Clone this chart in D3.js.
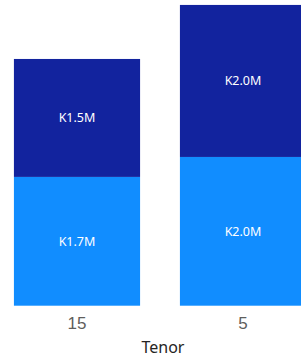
<!DOCTYPE html>
<html lang="en">
<head>
  <meta charset="UTF-8">
  <title>Tenor</title>
  <script src="https://d3js.org/d3.v7.min.js"></script>
  <style>
    html, body {
      margin: 0;
      padding: 0;
      background: #fff;
      overflow: hidden;
    }
    svg {
      display: block;
      font-family: "Segoe UI", "Noto Sans", sans-serif;
    }
    .tick-label {
      fill: #605e5c;
      font-size: 17px;
    }
    .axis-title {
      fill: #252423;
      font-size: 16px;
    }
    .data-label {
      fill: #fff;
      font-size: 12.5px;
    }
  </style>
</head>
<body>
  <div id="chart"></div>
  <script>
    const categories = ["15", "5"];
    const lowerValues = [1690000, 1952000];
    const upperValues = [1548000, 1995000];
    const seriesNames = ["lower", "upper"];
    const seriesColors = ["#118dff", "#12239e"];

    const width = 301;
    const height = 359;

    const svg = d3.select("#chart").append("svg")
      .attr("width", width)
      .attr("height", height);

    const rows = categories.map((c, i) => ({
      cat: c,
      lower: lowerValues[i],
      upper: upperValues[i]
    }));

    const stack = d3.stack().keys(seriesNames);
    const series = stack(rows);

    const x = d3.scaleBand()
      .domain(categories)
      .range([-6, 326])
      .paddingInner(0.24)
      .paddingOuter(0.12);

    const y = d3.scaleLinear()
      .domain([0, 4000000])
      .range([305.7, 0.9]);

    const fmt = v => "K" + (v / 1e6).toFixed(1) + "M";

    const layer = svg.selectAll(".layer")
      .data(series)
      .enter().append("g")
      .attr("class", "layer")
      .attr("fill", (d, i) => seriesColors[i]);

    layer.selectAll("rect")
      .data(d => d)
      .enter().append("rect")
      .attr("x", d => x(d.data.cat))
      .attr("y", d => y(d[1]))
      .attr("width", x.bandwidth())
      .attr("height", d => y(d[0]) - y(d[1]));

    layer.selectAll("text")
      .data(d => d)
      .enter().append("text")
      .attr("class", "data-label")
      .attr("text-anchor", "middle")
      .attr("dominant-baseline", "central")
      .attr("x", d => x(d.data.cat) + x.bandwidth() / 2)
      .attr("y", d => (y(d[0]) + y(d[1])) / 2)
      .text(d => fmt(d[1] - d[0]));

    const xAxis = svg.append("g")
      .attr("transform", "translate(0,305.7)")
      .call(d3.axisBottom(x).tickSize(0).tickPadding(0));
    xAxis.select(".domain").remove();
    xAxis.selectAll("text")
      .attr("class", "tick-label")
      .attr("fill", null)
      .attr("font-size", null)
      .attr("font-family", null)
      .attr("dy", null)
      .attr("y", 23);

    svg.append("text")
      .attr("class", "axis-title")
      .attr("text-anchor", "middle")
      .attr("x", 163)
      .attr("y", 353)
      .text("Tenor");
  </script>
</body>
</html>
